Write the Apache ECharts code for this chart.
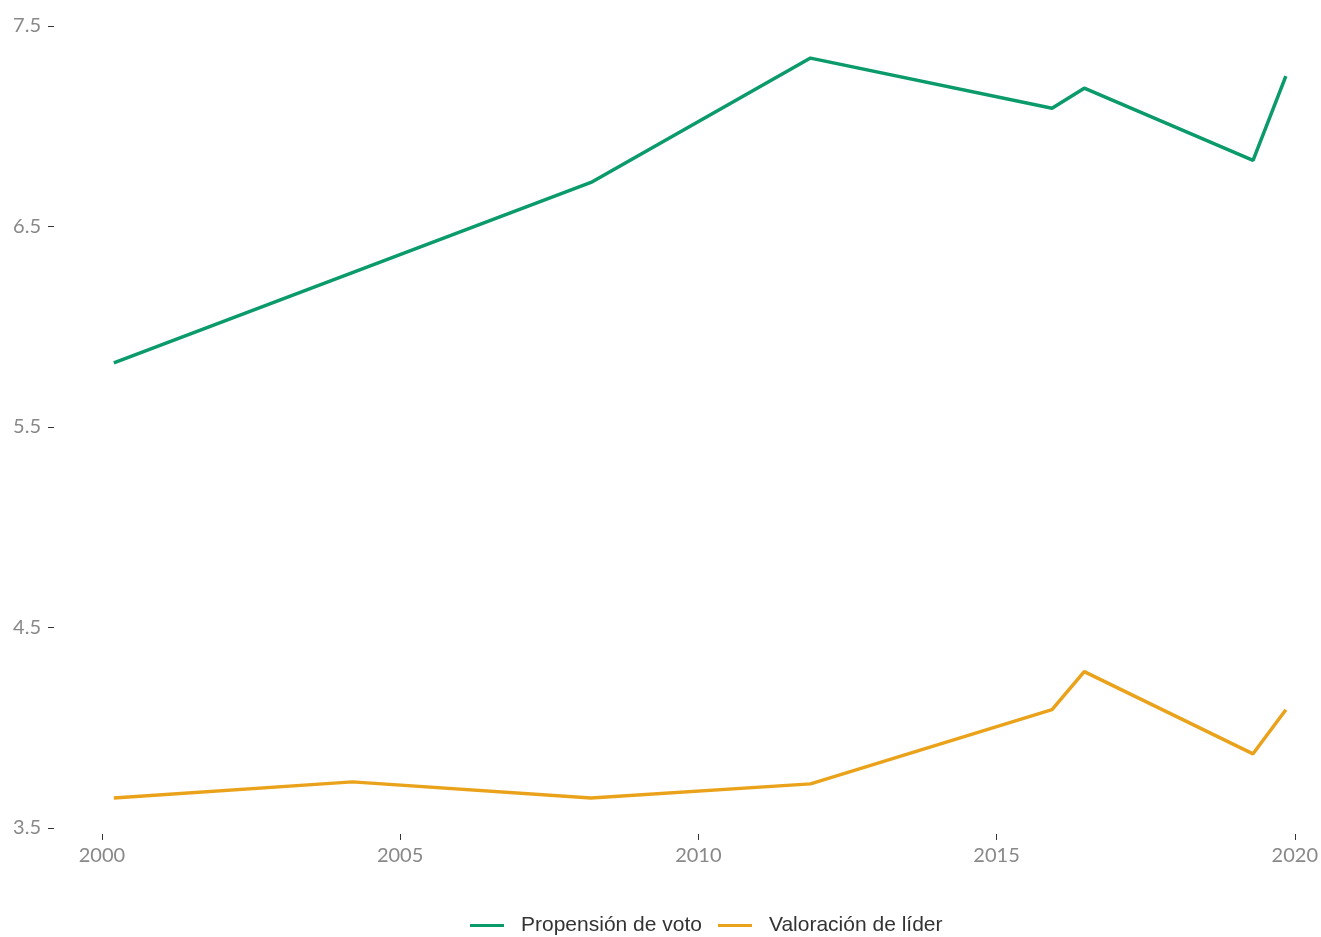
<!DOCTYPE html>
<html>
<head>
<meta charset="utf-8">
<script src="https://cdn.jsdelivr.net/npm/echarts@6/dist/echarts.min.js"></script>
<style>html,body{margin:0;padding:0;background:#fff}#c{width:1321px;height:937px}</style>
</head>
<body>
<div id="c"></div>
<script>
// Decimal years of each survey (Spanish general elections)
const years = [2000.2, 2004.2, 2008.2, 2011.88, 2015.93, 2016.47, 2019.3, 2019.85];
const propension = [5.82, 6.27, 6.72, 7.34, 7.09, 7.19, 6.83, 7.25];
const valoracion = [3.65, 3.73, 3.65, 3.72, 4.09, 4.28, 3.87, 4.09];
const xTicks = [2000, 2005, 2010, 2015, 2020];
const yTicks = [3.5, 4.5, 5.5, 6.5, 7.5];
const seriesNames = ['Propensión de voto', 'Valoración de líder'];
const colors = ['#0b9a6a', '#eaa21b'];

const chart = echarts.init(document.getElementById('c'));
const pair = (xs, ys) => xs.map((x, i) => [x, ys[i]]);
chart.setOption({
  animation: false,
  textStyle: { fontFamily: 'Liberation Sans, Arial, sans-serif' },
  grid: { left: 54, right: 0, top: 20, bottom: 103 },
  legend: {
    top: 910, left: 465,
    icon: 'rect', itemWidth: 34, itemHeight: 3, itemGap: 16,
    textStyle: { fontSize: 21, color: '#333', padding: [0, 0, 0, 12],
      fontFamily: 'Liberation Sans, Arial, sans-serif' },
    data: seriesNames
  },
  xAxis: {
    type: 'value', min: 1999.197, max: 2020.387,
    splitLine: { show: false }, axisLine: { show: false },
    axisTick: { show: true, length: 6, lineStyle: { color: '#333' }, customValues: xTicks },
    axisLabel: { customValues: xTicks, color: '#888', fontSize: 20, margin: 12,
      fontFamily: 'Lato, sans-serif', formatter: v => String(v) }
  },
  yAxis: {
    type: 'value', min: 3.47, max: 7.53,
    splitLine: { show: false }, axisLine: { show: false },
    axisTick: { show: true, length: 6, lineStyle: { color: '#333' }, customValues: yTicks },
    axisLabel: { customValues: yTicks, color: '#888', fontSize: 20, margin: 13,
      fontFamily: 'Lato, sans-serif', formatter: v => v.toFixed(1) }
  },
  series: [
    { name: seriesNames[0], type: 'line', data: pair(years, propension), showSymbol: false,
      lineStyle: { width: 3.5, color: colors[0] }, itemStyle: { color: colors[0] } },
    { name: seriesNames[1], type: 'line', data: pair(years, valoracion), showSymbol: false,
      lineStyle: { width: 3.5, color: colors[1] }, itemStyle: { color: colors[1] } }
  ]
});
</script>
</body>
</html>
